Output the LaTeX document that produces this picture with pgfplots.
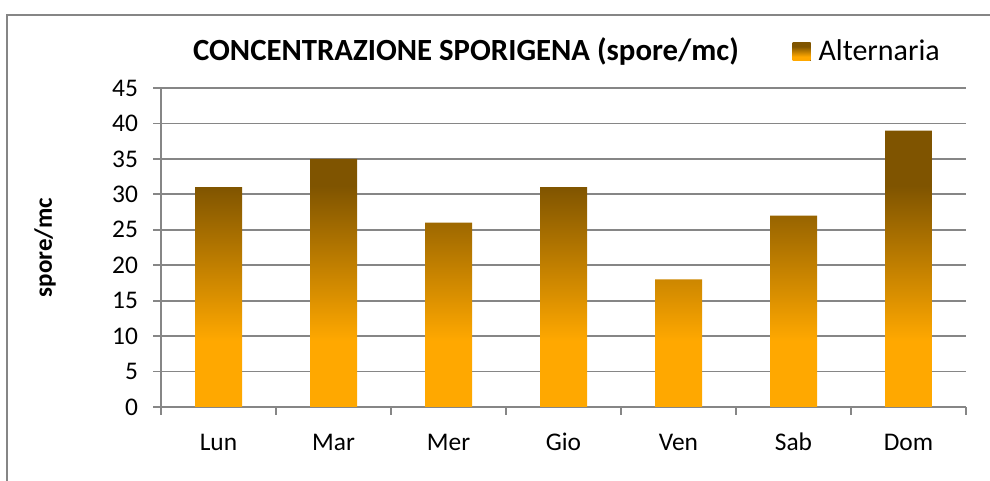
\documentclass[border=0pt]{standalone}
\usepackage{pgfplots}
\pgfplotsset{compat=1.18}
\usepackage{fontspec}
\setmainfont{Carlito}
\definecolor{altorange}{RGB}{255,168,0}
\definecolor{altbrown}{RGB}{127,84,0}
\definecolor{axgray}{RGB}{134,134,134}
\pgfdeclareverticalshading{alt}{100bp}{color(0bp)=(altorange); color(37bp)=(altorange); color(65bp)=(altbrown); color(100bp)=(altbrown)}
\begin{document}
\begin{tikzpicture}[x=0.5pt,y=0.5pt]
\useasboundingbox (0,0) rectangle (990,481);
\draw[axgray, line width=0.9pt] (7,-5) -- (7,466) -- (995,466);
\node[font=\fontsize{15.4}{18}\selectfont\bfseries, anchor=center] at (466,429) {CONCENTRAZIONE SPORIGENA (spore/mc)};
\begin{axis}[
  at={(80.5pt,37pt)}, anchor=south west,
  width=402.5pt, height=159.5pt, scale only axis,
  xmin=0, xmax=7, ymin=0, ymax=45,
  ytick={0,5,...,45},
  xtick={0,...,7},
  x tick label as interval,
  xticklabels={Lun,Mar,Mer,Gio,Ven,Sab,Dom},
  /pgf/number format/assume math mode=true,
  axis x line*=bottom, axis y line*=left,
  axis line style={axgray, line width=0.9pt, -},
  tick style={axgray, line width=0.9pt},
  tick align=outside, major tick length=4pt,
  ymajorgrids, grid style={axgray, line width=0.9pt},
  ticklabel style={font=\fontsize{12.7}{15}\selectfont},
  yticklabel style={xshift=-4pt},
  xticklabel style={text height=1.6ex, text depth=0.4ex, yshift=-6.5pt},
  ylabel={spore/mc},
  ylabel style={font=\fontsize{12.5}{15}\selectfont\bfseries, at={(axis description cs:-0.144,0.5)}, anchor=center},
  legend style={at={(0.784,1.113)}, anchor=west, draw=none, fill=none, font=\fontsize{15}{18}\selectfont, inner sep=0pt, legend cell align=left},
  legend image code/.code={\fill[shading=alt] (0pt,-4.5pt) rectangle (9pt,4.5pt);},
]
\addplot[ybar, bar width=23.5pt, bar shift=0pt, draw=none, shading=alt] coordinates {
  (0.5,31) (1.5,35) (2.5,26) (3.5,31) (4.5,18) (5.5,27) (6.5,39)
};
\addlegendentry{\hspace{2pt}Alternaria}
\end{axis}
\end{tikzpicture}
\end{document}
